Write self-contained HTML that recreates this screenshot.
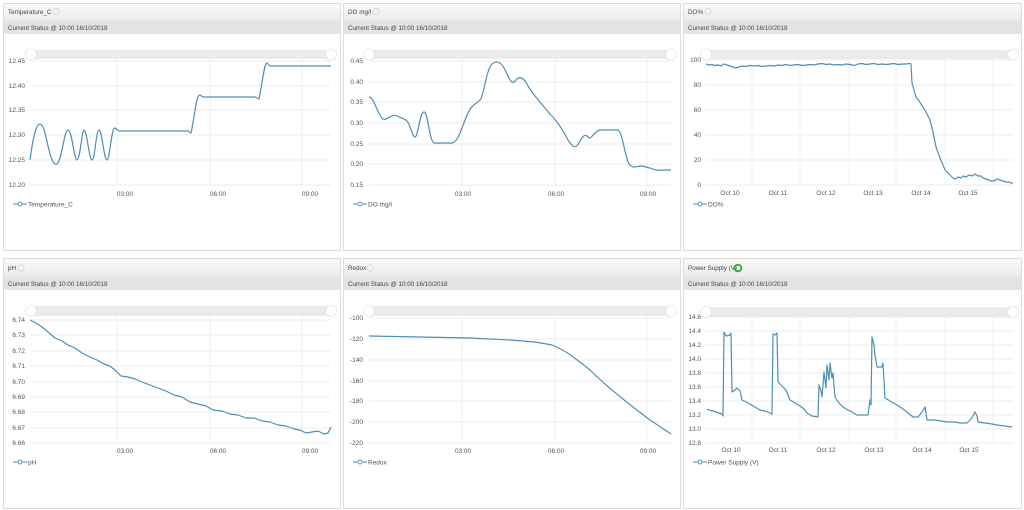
<!DOCTYPE html>
<html><head><meta charset="utf-8"><style>
html,body{margin:0;padding:0;background:#fff;width:1024px;height:510px;overflow:hidden}
svg{display:block;font-family:"Liberation Sans",sans-serif}
.t{font-size:6.3px;fill:#444}
.ax{font-size:6.5px;fill:#555}
.g{stroke:#e8e8e8;stroke-width:0.7}
.s{fill:none;stroke:#4f8fb3;stroke-width:1.2;stroke-linejoin:round}
</style></head><body>
<svg width="1024" height="510" viewBox="0 0 1024 510">
<defs><linearGradient id="tb" x1="0" y1="0" x2="0" y2="1"><stop offset="0" stop-color="#fafafa"/><stop offset="1" stop-color="#ebebeb"/></linearGradient></defs>
<g stroke="#dcdcdc" fill="#fff">
<rect x="3.5" y="3.5" width="337" height="247"/><rect x="343.5" y="3.5" width="337" height="247"/><rect x="683.5" y="3.5" width="338" height="247"/>
<rect x="3.5" y="258.5" width="337" height="250"/><rect x="343.5" y="258.5" width="337" height="250"/><rect x="683.5" y="258.5" width="338" height="250"/>
</g>
<g fill="url(#tb)"><rect x="4" y="4" width="336" height="17"/><rect x="344" y="4" width="336" height="17"/><rect x="684" y="4" width="337" height="17"/>
<rect x="4" y="259" width="336" height="18"/><rect x="344" y="259" width="336" height="18"/><rect x="684" y="259" width="337" height="18"/></g>
<g fill="#e3e3e3"><rect x="4" y="21" width="336" height="13"/><rect x="344" y="21" width="336" height="13"/><rect x="684" y="21" width="337" height="13"/>
<rect x="4" y="277" width="336" height="13"/><rect x="344" y="277" width="336" height="13"/><rect x="684" y="277" width="337" height="13"/></g>
<g class="t">
<text x="8" y="14">Temperature_C</text><text x="348" y="14">DO mg/l</text><text x="688" y="14">DO%</text>
<text x="8" y="270">pH</text><text x="348" y="270">Redox</text><text x="688" y="270">Power Supply (V)</text>
<text x="8" y="30">Current Status @ 10:00 16/10/2018</text><text x="348" y="30">Current Status @ 10:00 16/10/2018</text><text x="688" y="30">Current Status @ 10:00 16/10/2018</text>
<text x="8" y="286">Current Status @ 10:00 16/10/2018</text><text x="348" y="286">Current Status @ 10:00 16/10/2018</text><text x="688" y="286">Current Status @ 10:00 16/10/2018</text>
</g>
<g fill="#f2f2f2" stroke="#ccc" stroke-width="0.6"><circle cx="56" cy="11.5" r="3.2"/><circle cx="376" cy="11.5" r="3.2"/><circle cx="708" cy="11.5" r="3.2"/><circle cx="21" cy="268" r="3.2"/><circle cx="370" cy="268" r="3.2"/></g>
<circle cx="738" cy="268" r="3.3" fill="none" stroke="#3aa83a" stroke-width="2"/>
<g fill="#ebebeb"><rect x="30" y="50" width="301" height="9"/><rect x="369" y="50" width="302" height="9"/><rect x="706" y="50" width="307" height="9"/>
<rect x="30" y="306" width="301" height="10"/><rect x="369" y="306" width="302" height="10"/><rect x="706" y="307" width="307" height="10"/></g>
<g fill="#fff" stroke="#ddd" stroke-width="0.6">
<circle cx="31" cy="54.5" r="5.5"/><circle cx="331" cy="54.5" r="5.5"/><circle cx="369" cy="54.5" r="5.5"/><circle cx="671" cy="54.5" r="5.5"/><circle cx="706" cy="54.5" r="5.5"/><circle cx="1013" cy="54.5" r="5.5"/>
<circle cx="31" cy="311" r="5.5"/><circle cx="331" cy="311" r="5.5"/><circle cx="369" cy="311" r="5.5"/><circle cx="671" cy="311" r="5.5"/><circle cx="706" cy="312" r="5.5"/><circle cx="1013" cy="312" r="5.5"/>
</g>
<g class="g">
<path d="M30 61H331M30 86H331M30 110H331M30 135H331M30 160H331M30 185H331M117 59V185M210 59V185M302 59V185"/>
<path d="M369 61H671M369 82H671M369 102H671M369 123H671M369 144H671M369 164H671M369 185H671M462 59V185M555 59V185M647 59V185"/>
<path d="M706 60H1013M706 85H1013M706 110H1013M706 135H1013M706 160H1013M706 185H1013M752 59V185M800 59V185M849 59V185M896 59V185M945 59V185M993 59V185"/>
<path d="M30 320H331M30 335H331M30 351H331M30 366H331M30 382H331M30 397H331M30 412H331M30 428H331M30 443H331M117 316V443M210 316V443M302 316V443"/>
<path d="M369 318H671M369 339H671M369 360H671M369 381H671M369 401H671M369 422H671M369 443H671M462 316V443M555 316V443M647 316V443"/>
<path d="M706 317H1013M706 331H1013M706 345H1013M706 359H1013M706 373H1013M706 387H1013M706 401H1013M706 415H1013M706 429H1013M706 443H1013M752 317V443M800 317V443M849 317V443M896 317V443M945 317V443M993 317V443"/>
</g>
<g class="ax" text-anchor="end">
<text x="25" y="63">12.45</text><text x="25" y="88">12.40</text><text x="25" y="112">12.35</text><text x="25" y="137">12.30</text><text x="25" y="162">12.25</text><text x="25" y="187">12.20</text>
<text x="363" y="63">0.45</text><text x="363" y="84">0.40</text><text x="363" y="104">0.35</text><text x="363" y="125">0.30</text><text x="363" y="146">0.25</text><text x="363" y="166">0.20</text><text x="363" y="187">0.15</text>
<text x="701" y="62">100</text><text x="701" y="87">80</text><text x="701" y="112">60</text><text x="701" y="137">40</text><text x="701" y="162">20</text><text x="701" y="187">0</text>
<text x="25" y="322">6.74</text><text x="25" y="337">6.73</text><text x="25" y="353">6.72</text><text x="25" y="368">6.71</text><text x="25" y="384">6.70</text><text x="25" y="399">6.69</text><text x="25" y="414">6.68</text><text x="25" y="430">6.67</text><text x="25" y="445">6.66</text>
<text x="363" y="320">-100</text><text x="363" y="341">-120</text><text x="363" y="362">-140</text><text x="363" y="383">-160</text><text x="363" y="403">-180</text><text x="363" y="424">-200</text><text x="363" y="445">-220</text>
<text x="701" y="319">14.6</text><text x="701" y="333">14.4</text><text x="701" y="347">14.2</text><text x="701" y="361">14.0</text><text x="701" y="375">13.8</text><text x="701" y="389">13.6</text><text x="701" y="403">13.4</text><text x="701" y="417">13.2</text><text x="701" y="431">13.0</text><text x="701" y="445">12.8</text>
</g>
<g class="ax" text-anchor="middle">
<text x="125" y="196">03:00</text><text x="218" y="196">06:00</text><text x="310" y="196">09:00</text>
<text x="463" y="196">03:00</text><text x="556" y="196">06:00</text><text x="648" y="196">09:00</text>
<text x="730" y="195">Oct 10</text><text x="778" y="195">Oct 11</text><text x="826" y="195">Oct 12</text><text x="873" y="195">Oct 13</text><text x="921" y="195">Oct 14</text><text x="968" y="195">Oct 15</text>
<text x="125" y="453">03:00</text><text x="218" y="453">06:00</text><text x="310" y="453">09:00</text>
<text x="463" y="453">03:00</text><text x="556" y="453">06:00</text><text x="648" y="453">09:00</text>
<text x="731" y="452">Oct 10</text><text x="778" y="452">Oct 11</text><text x="826" y="452">Oct 12</text><text x="874" y="452">Oct 13</text><text x="922" y="452">Oct 14</text><text x="969" y="452">Oct 15</text>
</g>
<g stroke="#4f8fb3" stroke-width="0.9" fill="#fff">
<path d="M13 204H27M353 204H367M693 204H707M13 462H27M353 462H367M693 462H707"/>
<circle cx="20" cy="204" r="2"/><circle cx="360" cy="204" r="2"/><circle cx="700" cy="204" r="2"/><circle cx="20" cy="462" r="2"/><circle cx="360" cy="462" r="2"/><circle cx="700" cy="462" r="2"/>
</g>
<g class="ax"><text x="28" y="206.5">Temperature_C</text><text x="368" y="206.5">DO mg/l</text><text x="708" y="206.5">DO%</text>
<text x="28" y="464.5">pH</text><text x="368" y="464.5">Redox</text><text x="708" y="464.5">Power Supply (V)</text></g>
<path class="s" d="M30 160 C34 130,38 118,43 127 C47 135,50 167,57 164 C62 160,64 130,68 130 C72 130,74 160,77 160 C80 160,82 130,84 130 C87 130,89 160,92 160 C95 160,96 130,99 130 C102 130,104 160,107 160 C110 160,111 128,115 128 L119 131 L188 131 L191 133 C195 115,196 95,200 95 L203 97 L255 97 L259 99 C263 80,264 64,267 63 L270 66 L331 66"/>
<path class="s" d="M369 97 C374 97,378 116,383 119 C387 121,392 113,397 116 C402 119,406 118,409 124 C412 132,414 140,416 136 C419 130,420 112,424 112 C428 112,429 140,434 143 L452 143 C458 142,461 130,467 115 C472 104,476 104,480 100 C484 96,486 70,492 64 C497 60,502 62,506 72 C510 80,512 86,516 80 C519 76,523 77,527 84 C531 92,540 102,550 114 C558 122,563 130,568 140 C572 146,575 150,579 143 C582 137,585 133,588 137 C591 141,594 131,600 130 L618 130 C622 132,624 150,628 162 C632 170,636 166,642 166 L650 168 C656 171,660 170,671 170"/>
<path class="s" d="M706 64 L709 65 L712 64.5 L715 65.5 L718 65 L721 66 L724 64 L727 65 L730 66 L733 67 L736 68 L739 67 L742 66 L746 66.5 L750 65.5 L754 66 L758 65.5 L762 66.5 L766 66 L770 65.5 L774 66 L778 65 L782 65.5 L786 64.5 L790 65.5 L794 65 L798 64.5 L802 65.5 L806 65 L810 64.5 L814 65 L818 64 L822 63.5 L826 64.5 L830 64 L834 65 L838 64.5 L842 65 L846 64 L850 64.5 L854 65.5 L858 64 L862 63.5 L866 64.5 L870 64 L874 63.5 L878 64.5 L882 64 L886 64.5 L890 64 L894 63.5 L898 64.5 L902 64 L906 64 L910 63.5 L911 64 L912 83 L914 90 L916 97 L919 101 L923 107 L926 112 L930 120 L933 132 L936 147 L940 158 L945 170 L948 173 L951 176 L953 178 L955 179 L958 177 L961 178 L963 176 L966 177 L969 175 L972 176 L975 174 L978 176 L981 176 L983 178 L986 179 L989 180 L991 181 L994 181 L997 179 L1000 180 L1003 181 L1006 182 L1009 182 L1011 183 L1013 183"/>
<path class="s" d="M30 320 L36 323 L42 327 L48 332 L55 338 L62 341 L68 345 L75 348 L82 353 L90 357 L97 360 L104 364 L110 366 L116 371 L121 376 L128 377 L135 379 L142 382 L150 385 L158 388 L166 391 L174 395 L182 397 L190 402 L198 404 L206 406 L213 410 L222 411 L230 414 L238 415 L246 418 L254 418 L262 421 L270 422 L278 425 L286 426 L294 429 L300 430 L306 433 L312 432 L318 431 L324 434 L328 433 L331 427"/>
<path class="s" d="M369 336 L420 337 L470 338 L510 340 L535 342 L552 345 C565 350,575 358,590 370 C605 385,630 405,650 420 L671 434"/>
<path class="s" d="M707 409 L709 410 L713 411 L716 412 L719 413 L722 414 L723 416 L724 332 L726 336 L730 335 L731 333 L732 392 L735 390 L737 388 L740 391 L742 400 L746 402 L750 404 L755 407 L760 410 L765 411 L770 413 L772 414 L773 334 L775 335 L777 333 L778 382 L781 385 L783 387 L786 390 L790 400 L795 403 L800 406 L804 409 L807 413 L812 416 L818 417 L819 385 L821 391 L822 397 L824 372 L826 388 L827 365 L829 380 L830 363 L832 378 L833 373 L835 397 L838 402 L843 407 L848 410 L852 412 L857 415 L862 415 L868 415 L870 400 L871 405 L872 337 L874 345 L875 355 L877 367 L882 367 L883 363 L885 398 L890 401 L897 405 L903 409 L908 413 L913 417 L918 417 L922 412 L925 407 L927 420 L935 420 L947 422 L955 422 L960 423 L967 423 L971 419 L975 412 L977 416 L978 422 L985 423 L992 424 L997 425 L1005 426 L1012 427"/>
</svg>
</body></html>
